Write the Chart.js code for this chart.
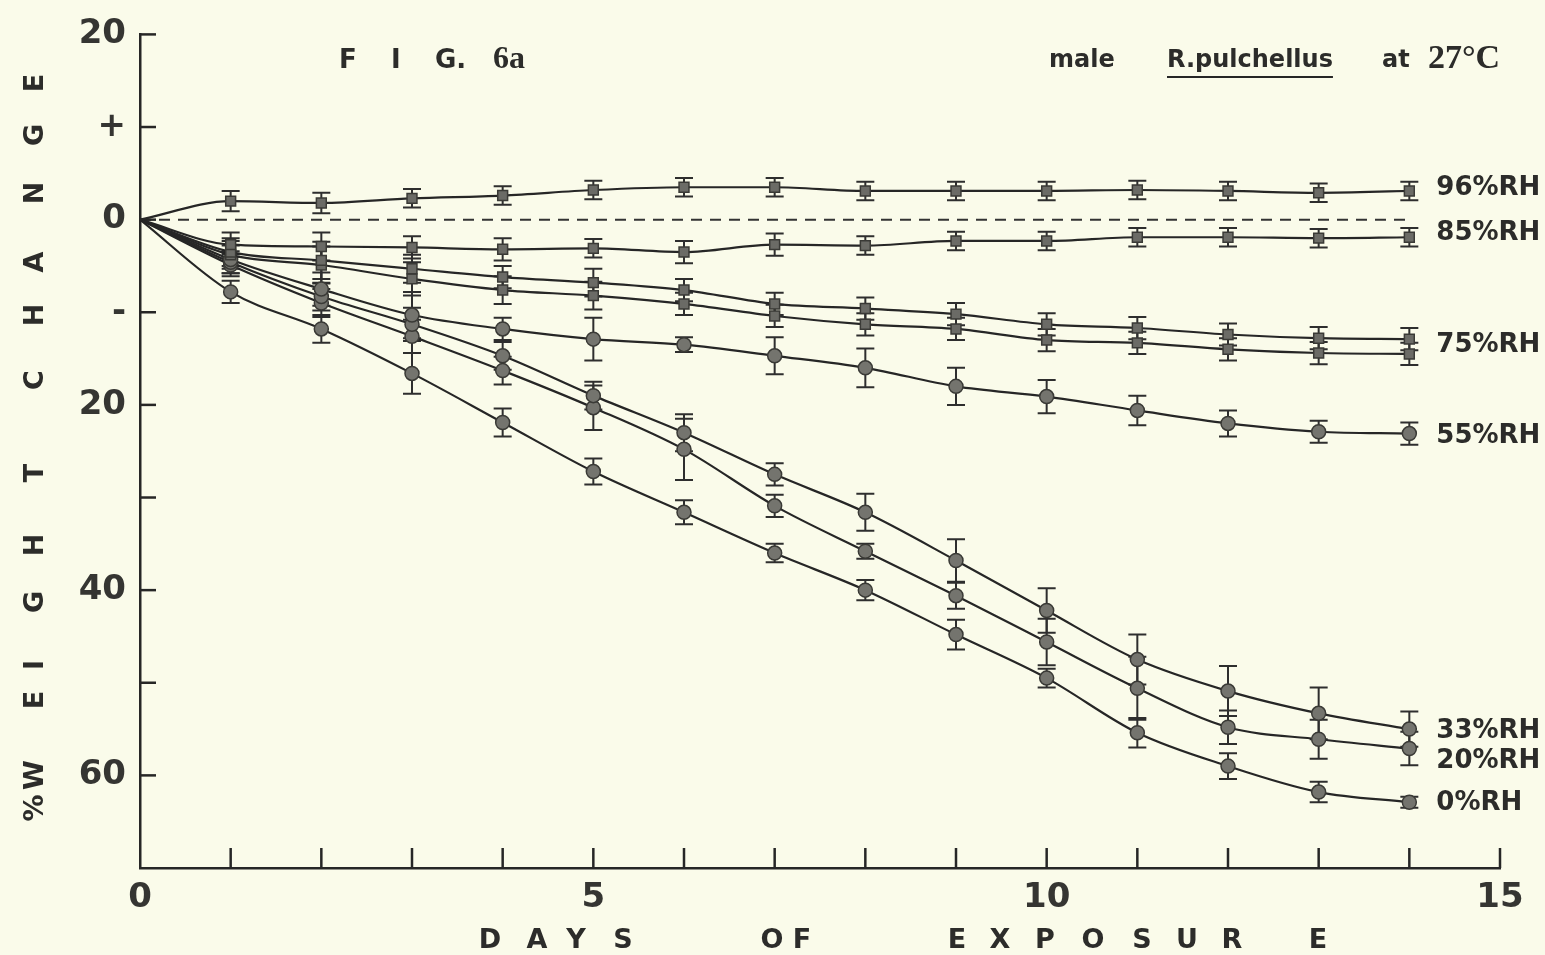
<!DOCTYPE html>
<html>
<head>
<meta charset="utf-8">
<script src="https://cdn.jsdelivr.net/npm/chart.js@4.4.1/dist/chart.umd.min.js"></script>
<style>
html, body { margin: 0; padding: 0; background: #fafbea; }
</style>
</head>
<body>
<canvas id="myChart" width="1545" height="955"></canvas>
<script>
// days of exposure
const days = [0, 1, 2, 3, 4, 5, 6, 7, 8, 9, 10, 11, 12, 13, 14];

// % weight change (negative = loss)
const rh96 = [0, 2.0, 1.8, 2.3, 2.6, 3.2, 3.5, 3.5, 3.1, 3.1, 3.1, 3.2, 3.1, 2.9, 3.1];
const rh85 = [0, -2.7, -2.9, -3.0, -3.2, -3.1, -3.5, -2.7, -2.8, -2.3, -2.3, -1.9, -1.9, -2.0, -1.9];
const rh75a = [0, -3.5, -4.4, -5.3, -6.2, -6.8, -7.6, -9.1, -9.6, -10.2, -11.3, -11.7, -12.4, -12.8, -12.9];
const rh75b = [0, -3.8, -4.9, -6.4, -7.6, -8.2, -9.1, -10.4, -11.3, -11.8, -13.0, -13.3, -14.0, -14.4, -14.5];
const rh55 = [0, -4.3, -7.5, -10.3, -11.8, -12.9, -13.5, -14.7, -16.0, -18.0, -19.1, -20.6, -22.0, -22.9, -23.1];
const rh33 = [0, -4.6, -8.3, -11.3, -14.7, -19.0, -23.0, -27.5, -31.6, -36.8, -42.2, -47.5, -50.9, -53.3, -55.0];
const rh20 = [0, -4.9, -9.0, -12.6, -16.3, -20.3, -24.8, -30.9, -35.8, -40.6, -45.6, -50.6, -54.8, -56.1, -57.1];
const rh0 = [0, -7.8, -11.8, -16.6, -21.9, -27.2, -31.6, -36.0, -40.0, -44.8, -49.5, -55.4, -59.0, -61.8, -62.9];

// half length of the error bars
const err96 = [0, 1.1, 1.1, 1.0, 1.0, 1.0, 1.0, 1.0, 1.0, 1.0, 1.0, 1.0, 1.0, 1.0, 1.0];
const err85 = [0, 1.3, 1.5, 1.2, 1.2, 1.0, 1.2, 1.2, 1.0, 1.0, 1.0, 1.0, 1.0, 1.0, 1.0];
const err75a = [0, 1.5, 2.0, 1.5, 1.2, 1.5, 1.2, 1.2, 1.2, 1.2, 1.2, 1.2, 1.2, 1.2, 1.2];
const err75b = [0, 1.5, 2.0, 1.8, 1.5, 1.5, 1.2, 1.2, 1.2, 1.2, 1.2, 1.2, 1.2, 1.2, 1.2];
const err55 = [0, 1.5, 1.8, 2.5, 1.2, 2.3, 0.8, 2.0, 2.1, 2.0, 1.8, 1.6, 1.4, 1.2, 1.2];
const err33 = [0, 1.2, 1.5, 1.8, 1.5, 1.5, 2.0, 1.2, 2.0, 2.3, 2.4, 2.7, 2.7, 2.8, 1.9];
const err20 = [0, 1.2, 1.5, 1.8, 1.5, 2.4, 3.3, 1.2, 0.8, 1.4, 2.5, 3.4, 1.8, 2.1, 1.8];
const err0 = [0, 1.2, 1.5, 2.2, 1.5, 1.4, 1.3, 1.0, 1.1, 1.6, 1.0, 1.6, 1.4, 1.1, 0.6];

const zeroDays = [0, 14];
const zeroVals = [0, 0];

// end-of-curve labels
const rhNames = ['96%RH', '85%RH', '75%RH', '', '55%RH', '33%RH', '20%RH', '0%RH'];
const yTickText = { 20: '20', 10: '+', 0: '0', '-10': '-', '-20': '20', '-40': '40', '-60': '60' };

const ink = '#262626';

function series(label, vals, errs, shape) {
    return {
        label: label,
        data: days.map((d, i) => ({ x: d, y: vals[i] })),
        errors: errs,
        borderColor: ink,
        borderWidth: 2.2,
        cubicInterpolationMode: 'monotone',
        pointStyle: shape,
        pointRadius: c => c.dataIndex === 0 ? 0 : 7,
        pointBackgroundColor: shape === 'rect' ? '#6b6b66' : '#74746e',
        pointBorderColor: '#3a3a36',
        pointBorderWidth: 1.5
    };
}

const labelDy = [-3, -4, 6, 0, 3, 2, 13, 1];

const figPlugin = {
    id: 'figPlugin',
    beforeDraw(chart) {
        const ctx = chart.ctx;
        ctx.save();
        ctx.fillStyle = '#fafbea';
        ctx.fillRect(0, 0, chart.width, chart.height);
        ctx.restore();
    },
    beforeDatasetsDraw(chart) {
        const { ctx, scales: { x, y } } = chart;
        ctx.save();
        ctx.strokeStyle = '#2e2e2e';
        ctx.lineWidth = 2;
        chart.data.datasets.forEach(ds => {
            if (!ds.errors) return;
            ds.data.forEach((p, i) => {
                const e = ds.errors[i];
                if (!e) return;
                const px = x.getPixelForValue(p.x);
                const y1 = y.getPixelForValue(p.y + e);
                const y2 = y.getPixelForValue(p.y - e);
                ctx.beginPath();
                ctx.moveTo(px, y1); ctx.lineTo(px, y2);
                ctx.moveTo(px - 9, y1); ctx.lineTo(px + 9, y1);
                ctx.moveTo(px - 9, y2); ctx.lineTo(px + 9, y2);
                ctx.stroke();
            });
        });
        ctx.restore();
    },
    afterDraw(chart) {
        const { ctx, chartArea: area, scales: { x, y } } = chart;
        ctx.save();
        ctx.strokeStyle = ink;
        ctx.lineWidth = 2.5;
        // inward ticks
        y.ticks.forEach(t => {
            if (t.value === y.min) return;
            const py = y.getPixelForValue(t.value);
            ctx.beginPath(); ctx.moveTo(area.left, py); ctx.lineTo(area.left + 16, py); ctx.stroke();
        });
        x.ticks.forEach(t => {
            if (t.value === x.min) return;
            const px = x.getPixelForValue(t.value);
            ctx.beginPath(); ctx.moveTo(px, area.bottom); ctx.lineTo(px, area.bottom - 20); ctx.stroke();
        });

        ctx.fillStyle = '#2c2c2a';
        ctx.textBaseline = 'middle';

        // curve labels
        ctx.font = 'bold 26px "DejaVu Sans"';
        ctx.textAlign = 'left';
        chart.data.datasets.forEach((ds, i) => {
            const name = rhNames[i];
            if (!name) return;
            const last = ds.data[ds.data.length - 1];
            ctx.fillText(name, x.getPixelForValue(last.x) + 27, y.getPixelForValue(last.y) + labelDy[i]);
        });

        // figure title
        ctx.font = 'bold 26px "DejaVu Sans"';
        ctx.fillText('F', 339, 61);
        ctx.fillText('I', 391, 61);
        ctx.fillText('G.', 435, 61);
        ctx.font = 'bold 32px "Liberation Serif"';
        ctx.fillText('6a', 493, 60);

        // species / temperature note
        ctx.font = 'bold 24px "DejaVu Sans"';
        ctx.fillText('male', 1049, 61);
        const sp = 'R.pulchellus';
        ctx.fillText(sp, 1167, 61);
        const w = ctx.measureText(sp).width;
        ctx.lineWidth = 2;
        ctx.beginPath(); ctx.moveTo(1167, 77); ctx.lineTo(1167 + w, 77); ctx.stroke();
        ctx.fillText('at', 1382, 61);
        ctx.font = 'bold 34px "Liberation Serif"';
        ctx.fillText('27°C', 1428, 59);

        // axis titles
        ctx.font = 'bold 27px "DejaVu Sans"';
        ctx.textAlign = 'center';
        const xTitle = [['D', 490], ['A', 537], ['Y', 576], ['S', 623], ['O', 772], ['F', 802],
            ['E', 957], ['X', 1000], ['P', 1045], ['O', 1093], ['S', 1142], ['U', 1187], ['R', 1232], ['E', 1318]];
        xTitle.forEach(([c, px]) => ctx.fillText(c, px, 941));

        const yTitle = [['%', 808], ['W', 775], ['E', 700], ['I', 665], ['G', 602], ['H', 545], ['T', 473],
            ['C', 380], ['H', 315], ['A', 262], ['N', 193], ['G', 135], ['E', 83]];
        yTitle.forEach(([c, py]) => {
            ctx.save();
            ctx.translate(36, py);
            ctx.rotate(-Math.PI / 2);
            ctx.fillText(c, 0, 0);
            ctx.restore();
        });
        ctx.restore();
    }
};

const ctx = document.getElementById('myChart').getContext('2d');
const chart = new Chart(ctx, {
    type: 'line',
    data: {
        datasets: [
            series('96% RH', rh96, err96, 'rect'),
            series('85% RH', rh85, err85, 'rect'),
            series('75% RH', rh75a, err75a, 'rect'),
            series('75% RH b', rh75b, err75b, 'rect'),
            series('55% RH', rh55, err55, 'circle'),
            series('33% RH', rh33, err33, 'circle'),
            series('20% RH', rh20, err20, 'circle'),
            series('0% RH', rh0, err0, 'circle'),
            {
                label: 'zero',
                data: zeroDays.map((d, i) => ({ x: d, y: zeroVals[i] })),
                borderColor: '#333',
                borderWidth: 2,
                borderDash: [11, 8],
                pointRadius: 0
            }
        ]
    },
    options: {
        responsive: false,
        animation: false,
        layout: { padding: { top: 25, right: 45, left: 0, bottom: 0 } },
        plugins: { legend: { display: false }, tooltip: { enabled: false } },
        scales: {
            x: {
                type: 'linear',
                min: 0,
                max: 15,
                afterFit: s => { s.height = 87; },
                grid: { display: false, drawTicks: false },
                border: { display: true, color: ink, width: 2.5 },
                ticks: {
                    stepSize: 1,
                    autoSkip: false,
                    maxRotation: 0,
                    padding: 10,
                    color: '#353532',
                    font: { family: 'DejaVu Sans', size: 34, weight: 'bold' },
                    callback: v => v % 5 === 0 ? String(v) : ''
                }
            },
            y: {
                min: -70,
                max: 20,
                afterFit: s => { s.width = 140; },
                grid: { display: false, drawTicks: false },
                border: { display: true, color: ink, width: 2.5 },
                ticks: {
                    stepSize: 10,
                    autoSkip: false,
                    padding: 14,
                    color: '#353532',
                    font: { family: 'DejaVu Sans', size: 34, weight: 'bold' },
                    callback: v => yTickText[v] || ''
                }
            }
        }
    },
    plugins: [figPlugin]
});
</script>
</body>
</html>
